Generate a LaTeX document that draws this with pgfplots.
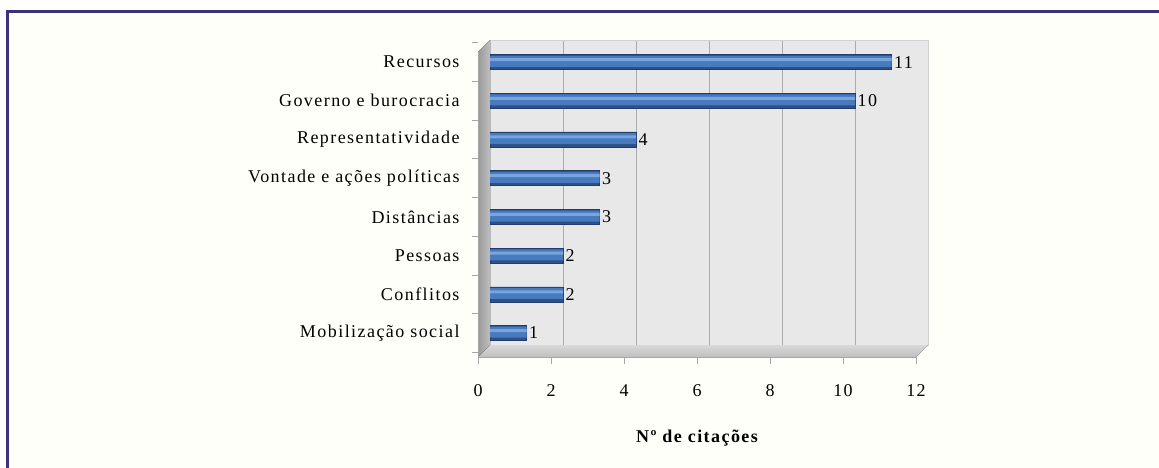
\documentclass[border=0pt]{standalone}
\usepackage{pgfplots}
\pgfplotsset{compat=1.18}
\usepackage{fontspec}
\setmainfont{Liberation Serif}[LetterSpace=8]
\definecolor{frame}{RGB}{58,52,118}
\definecolor{bartop}{RGB}{72,122,190}
\definecolor{barmid}{RGB}{120,165,222}
\definecolor{barbot}{RGB}{45,80,135}
\definecolor{bardraw}{RGB}{35,60,105}
\definecolor{wall}{RGB}{232,232,232}
\newcommand\lab{\fontsize{18bp}{21bp}\selectfont}
\begin{document}
\begin{tikzpicture}
\useasboundingbox (0,0) rectangle (1159bp,468bp);
\fill[white] (0,0) rectangle (1159bp,468bp);
\fill[yellow!2] (9bp,0) rectangle (1159bp,455bp);
\draw[frame, line width=3bp] (7.5bp,0) -- (7.5bp,456.5bp) -- (1159bp,456.5bp);
\begin{axis}[
  at={(490bp,123bp)}, anchor=south west,
  scale only axis, width=438bp, height=305bp,
  clip=false,
  xbar, xmin=0, xmax=12, ymin=-0.31, ymax=7.57,
  xtick={0,2,...,12}, ytick={0,...,7},
  yticklabels={Mobilização social, Conflitos, Pessoas, Distâncias, Vontade e ações políticas, Representatividade, Governo e burocracia, Recursos},
  /pgf/number format/assume math mode=true,
  major tick length=0pt,
  axis background/.style={fill=wall},
  axis line style={gray!35},
  xmajorgrids, grid style={gray!65, line width=0.9bp},
  ticklabel style={font=\lab},
  yticklabel style={anchor=east, xshift=-27bp},
  xticklabel style={anchor=north, yshift=-36bp, xshift=-12bp},
  xlabel={\bfseries Nº de citações},
  xlabel style={font=\lab, at={(axis description cs:0.5,0)}, anchor=center, yshift=-93bp, xshift=-12bp},
  every node near coord/.append style={font=\lab, anchor=west, inner sep=2.5bp, black},
]
% side wall and floor
\fill[left color=gray!80, right color=gray!50] (rel axis cs:0,0) -- (rel axis cs:0,1) -- ([shift={(-12bp,-12bp)}]rel axis cs:0,1) -- ([shift={(-12bp,-12bp)}]rel axis cs:0,0) -- cycle;
\fill[top color=gray!30, bottom color=gray!50] (rel axis cs:0,0) -- (rel axis cs:1,0) -- ([shift={(-12bp,-12bp)}]rel axis cs:1,0) -- ([shift={(-12bp,-12bp)}]rel axis cs:0,0) -- cycle;
\draw[gray!70, line width=0.8bp] ([shift={(-12bp,-12bp)}]rel axis cs:0,1) -- ([shift={(-12bp,-12bp)}]rel axis cs:0,0) -- ([shift={(-12bp,-12bp)}]rel axis cs:1,0);
\pgfplotsinvokeforeach{0,2,...,12}{\draw[gray!70, line width=0.8bp] ([shift={(-12bp,-12bp)}]axis cs:#1,-0.31) -- ++(0pt,-7bp);}
\pgfplotsinvokeforeach{-0.5,0.5,...,7.5}{\draw[gray!70, line width=0.8bp] ([xshift=-12bp]axis cs:0,#1) -- ++(-6bp,0pt);}
\addplot[draw=bardraw, fill=barbot, bar width=15bp, bar shift=0pt]
  coordinates {(1,0) (2,1) (2,2) (3,3) (3,4) (4,5) (10,6) (11,7)};
\addplot[draw=none, fill=bartop, bar width=11bp, bar shift=0.8bp]
  coordinates {(1,0) (2,1) (2,2) (3,3) (3,4) (4,5) (10,6) (11,7)};
\addplot[draw=none, fill=barmid, bar width=3bp, bar shift=2.5bp, nodes near coords,
  every node near coord/.append style={yshift=-2.5bp}]
  coordinates {(1,0) (2,1) (2,2) (3,3) (3,4) (4,5) (10,6) (11,7)};
\end{axis}
\end{tikzpicture}
\end{document}
